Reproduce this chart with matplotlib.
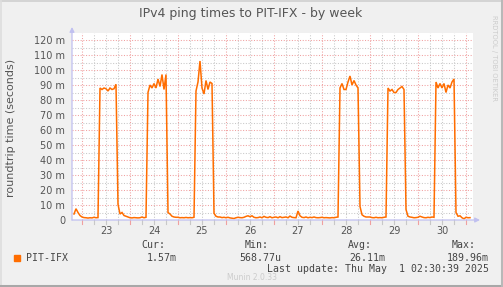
import matplotlib
matplotlib.use("Agg")
import matplotlib.pyplot as plt
import numpy as np

# ---------------- data ----------------
title = "IPv4 ping times to PIT-IFX - by week"
ylabel = "roundtrip time (seconds)"
series_name = "PIT-IFX"
day_labels = ["23", "24", "25", "26", "27", "28", "29", "30"]
ytick_values = [0, 10, 20, 30, 40, 50, 60, 70, 80, 90, 100, 110, 120]
ytick_labels = ["0", "10 m", "20 m", "30 m", "40 m", "50 m", "60 m", "70 m",
                "80 m", "90 m", "100 m", "110 m", "120 m"]

start_hour = -4          # hours relative to Apr 23 00:00
step_hours = 1

apr22 = [4.0, 7.5, 5.0, 3.0]
apr23 = [2.0, 1.6, 1.5, 1.3, 1.5, 1.4, 1.8, 1.5, 1.6,
         88, 87, 88, 87.5, 86, 88, 87, 87.5, 90.5,
         10.5, 4, 5, 3, 2.5, 2.0]
apr24 = [1.5, 1.4, 1.6, 1.5, 1.4, 1.5, 2.0, 1.5, 1.8,
         85, 90, 88, 91, 88, 94, 89, 97, 87, 97,
         5, 4, 2.5, 2, 1.8]
apr25 = [1.8, 1.5, 1.6, 1.5, 1.7, 1.5, 1.6, 1.5, 1.8,
         86, 92, 106, 88, 84, 93, 87, 92, 91,
         4.5, 2.5, 2.0, 2.0, 1.6, 1.8]
apr26 = [1.5, 1.8, 1.4, 1.2, 1.0, 1.5, 1.8, 1.6, 1.5, 1.8, 2.4, 2.8,
         2.2, 2.8, 1.8, 1.5, 1.6, 2.0, 1.5, 2.4, 1.8, 1.6, 2.2, 1.5]
apr27 = [1.8, 2.0, 1.5, 2.2, 1.6, 1.8, 2.0, 1.5, 2.6, 1.8, 1.6, 1.5,
         6.0, 2.8, 1.8, 1.6, 2.0, 1.5, 1.8, 1.6, 2.0, 1.6, 1.5, 1.6]
apr28 = [1.8, 1.5, 1.6, 1.5, 1.4, 1.6, 1.5, 1.8, 2.0,
         88, 91, 87, 87, 92, 96, 90, 93, 90, 88,
         9, 3.5, 2.5, 2, 2]
apr29 = [2.0, 1.6, 1.5, 1.8, 1.5, 1.6, 1.5, 1.8, 2.0,
         88, 86, 87, 85, 85, 87, 88, 89, 87,
         7, 2.5, 2.0, 1.8, 1.5, 1.6]
apr30 = [1.8, 2.5, 2.0, 1.6, 1.5, 1.8, 1.6, 2.0, 1.8,
         92, 88, 91, 88, 91, 85, 90, 88, 92, 94,
         5, 2.5, 2.8, 1.5, 0.8]
may01 = [1.8, 1.5, 1.57]

legend_headers = ["Cur:", "Min:", "Avg:", "Max:"]
legend_values = ["1.57m", "568.77u", "26.11m", "189.96m"]
last_update = "Last update: Thu May  1 02:30:39 2025"
munin_version = "Munin 2.0.33"
rrd_credit = "RRDTOOL / TOBI OETIKER"

# ---------------- build ----------------
values_ms = np.array(apr22 + apr23 + apr24 + apr25 + apr26 + apr27 +
                     apr28 + apr29 + apr30 + may01, dtype=float)
hours = start_hour + step_hours * np.arange(len(values_ms))

W, H = 503, 287
fig = plt.figure(figsize=(W / 100, H / 100), dpi=100, facecolor="#f0f0f0")

def fx(px):
    return px / W

def fy(py):
    return 1 - py / H

ax_left, ax_right, ax_top, ax_bottom = 72, 473, 33, 220
ax = fig.add_axes([fx(ax_left), fy(ax_bottom), (ax_right - ax_left) / W,
                   (ax_bottom - ax_top) / H])
ax.set_facecolor("white")
x_min, x_max = -5, 195.5
ymax = 120 + (40 - ax_top) / 1.5
ax.set_xlim(x_min, x_max)
ax.set_ylim(0, ymax)

grid_gray = "#c8c8c8"
grid_red = "#f0a0a0"
dots = (0, (1, 1.6))

# vertical grid
for h in np.arange(0, x_max, 6):
    major = (h % 24 == 0)
    ax.axvline(h, color=grid_red if major else grid_gray, lw=0.75,
               linestyle=dots, zorder=1)
# horizontal grid
for v in np.arange(5, ymax, 5):
    major = (v % 10 == 0)
    ax.axhline(v, color=grid_red if major else grid_gray, lw=0.75,
               linestyle=dots, zorder=1)

line_color = "#ff6d00"
ax.plot(hours, values_ms, color=line_color, lw=1.1, zorder=3,
        solid_joinstyle="miter")

for s in ax.spines.values():
    s.set_visible(False)

# ticks
noon_hours = [12 + 24 * i for i in range(len(day_labels))]
ax.set_xticks(noon_hours)
ax.set_xticklabels(day_labels)
ax.set_yticks(ytick_values)
ax.set_yticklabels(ytick_labels)
text_color = "#555555"
ax.tick_params(axis="x", length=0, pad=4, labelsize=7, labelcolor=text_color)
ax.tick_params(axis="y", length=0, pad=5, labelsize=7, labelcolor=text_color)

# small tick marks below x axis
for h in np.arange(0, x_max, 6):
    major = (h % 24 == 0)
    ax.plot([h, h], [0, -2.5], color=grid_red if major else grid_gray,
            lw=0.8, clip_on=False, zorder=2)

# axis lines with arrows
axis_color = "#c0c0f0"
ax.annotate("", xy=(1.0 + 7 / (ax_right - ax_left), 0), xytext=(0, 0),
            xycoords="axes fraction", textcoords="axes fraction",
            arrowprops=dict(arrowstyle="-|>", color=axis_color, lw=0.9,
                            mutation_scale=7, shrinkA=0, shrinkB=0),
            annotation_clip=False, zorder=4)
ax.annotate("", xy=(0, 1.0 + 6 / (ax_bottom - ax_top)), xytext=(0, 0),
            xycoords="axes fraction", textcoords="axes fraction",
            arrowprops=dict(arrowstyle="-|>", color=axis_color, lw=0.9,
                            mutation_scale=7, shrinkA=0, shrinkB=0),
            annotation_clip=False, zorder=4)

# titles
fig.text(fx(251), fy(14), title, ha="center", va="center", fontsize=9,
         color="#555555")
fig.text(fx(11), fy(128), ylabel, ha="center", va="center", rotation=90,
         fontsize=8, color=text_color)
fig.text(fx(494), fy(15), rrd_credit, ha="center", va="top", rotation=270,
         fontsize=4.9, color="#cccccc")

# legend
mono = "DejaVu Sans Mono"
leg_color = "#444444"
fig.patches.append(plt.Rectangle((fx(14), fy(261)), 6 / W, 6 / H,
                                 transform=fig.transFigure,
                                 color=line_color))
fig.text(fx(26), fy(258), series_name, ha="left", va="center",
         fontsize=7.1, family=mono, color=leg_color)
header_right = [165, 269, 372, 476]
value_right = [177, 281, 385, 489]
for hx, hdr in zip(header_right, legend_headers):
    fig.text(fx(hx), fy(245), hdr, ha="right", va="center", fontsize=7.1,
             family=mono, color=leg_color)
for vx, val in zip(value_right, legend_values):
    fig.text(fx(vx), fy(258), val, ha="right", va="center", fontsize=7.1,
             family=mono, color=leg_color)
fig.text(fx(489), fy(269.5), last_update, ha="right", va="center",
         fontsize=7.1, family=mono, color=leg_color)
fig.text(fx(252), fy(277), munin_version, ha="center", va="center",
         fontsize=5.5, color="#cccccc")

# frame around image
frame = fig.add_axes([0, 0, 1, 1], facecolor="none", zorder=-1)
frame.set_xlim(0, W)
frame.set_ylim(H, 0)
frame.axis("off")
frame.plot([0.5, W - 0.5], [0.5, 0.5], color="#cfcfcf", lw=1.2)
frame.plot([0.5, 0.5], [0, H], color="#dddddd", lw=1.2)
frame.plot([0, W], [H - 1.2, H - 1.2], color="#a8a8a8", lw=2.2)
frame.plot([W - 1.2, W - 1.2], [0, H], color="#b8b8b8", lw=2.2)

fig.savefig("out.png", dpi=100, facecolor=fig.get_facecolor())
